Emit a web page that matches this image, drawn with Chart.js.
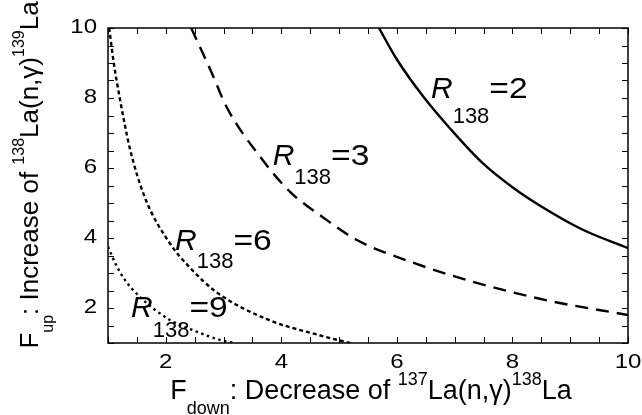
<!DOCTYPE html>
<html>
<head>
<meta charset="utf-8">
<script src="https://cdn.jsdelivr.net/npm/chart.js@4.4.0/dist/chart.umd.min.js"></script>
<style>
    html, body { margin: 0; padding: 0; background: #fff; }
    #chart { display: block; }
</style>
</head>
<body>
<canvas id="chart" width="642" height="415"></canvas>
<script>
// values
const r2X = [5.69, 6.0, 6.48, 6.92, 7.49, 8.0, 8.5, 9.2, 10];
const r2Y = [10, 9.1, 7.99, 7.13, 6.13, 5.45, 4.9, 4.25, 3.71];

const r3X = [2.44, 2.8, 3.05, 3.69, 4.15, 4.73, 5.3, 6.34, 7.49, 8.65, 10];
const r3Y = [10, 8.7, 7.75, 6.2, 5.32, 4.58, 3.95, 3.26, 2.67, 2.2, 1.8];

const r6X = [1.02, 1.1, 1.21, 1.38, 1.64, 2.07, 2.42, 2.88, 3.75, 4.64, 5.19];
const r6Y = [10, 9.0, 7.94, 6.55, 5.15, 3.85, 3.15, 2.45, 1.68, 1.23, 1.0];

const r9X = [1, 1.12, 1.26, 1.55, 2.07, 2.51, 3.0, 3.21];
const r9Y = [3.75, 3.3, 2.88, 2.32, 1.66, 1.34, 1.06, 1.0];

const xTicks = [1, 1.5, 2, 2.5, 3, 3.5, 4, 4.5, 5, 5.5, 6, 6.5, 7, 7.5, 8, 8.5, 9, 9.5, 10];
const yTicks = [1, 1.5, 2, 2.5, 3, 3.5, 4, 4.5, 5, 5.5, 6, 6.5, 7, 7.5, 8, 8.5, 9, 9.5, 10];
const xTickLabels = ["2", "4", "6", "8", "10"];
const yTickLabels = ["2", "4", "6", "8", "10"];

const curveNames = ["2", "3", "6", "9"];
// where each R138 label sits, in data units, and how far its subscript drops
const labelX = [6.59, 3.85, 2.16, 1.40];
const labelY = [7.99, 6.09, 3.66, 1.74];
const labelSubDrop = [25, 19, 18, 20];

const FONT = "'Liberation Sans', Arial, Helvetica, sans-serif";

function toPoints(xs, ys) {
    return xs.map((x, i) => ({ x: x, y: ys[i] }));
}

function curve(xs, ys, dash) {
    return {
        data: toPoints(xs, ys),
        showLine: true,
        borderColor: "#000",
        borderWidth: 2.4,
        borderDash: dash,
        pointRadius: 0,
        cubicInterpolationMode: "monotone",
        fill: false
    };
}

// text with sub / superscripts, parts = [text, size, dy]
function measureParts(ctx, parts) {
    let w = 0;
    parts.forEach(p => {
        ctx.font = p[1] + "px " + FONT;
        w += ctx.measureText(p[0]).width;
    });
    return w;
}

function drawParts(ctx, parts, x, y) {
    parts.forEach(p => {
        ctx.font = p[1] + "px " + FONT;
        ctx.fillText(p[0], x, y + p[2]);
        x += ctx.measureText(p[0]).width;
    });
}

function drawStretched(ctx, text, x, y, sx) {
    ctx.save();
    ctx.translate(x, y);
    ctx.scale(sx, 1);
    ctx.fillText(text, 0, 0);
    ctx.restore();
}

const framePlugin = {
    id: "frame",
    afterDraw(chart) {
        const ctx = chart.ctx;
        const area = chart.chartArea;
        const xs = chart.scales.x;
        const ys = chart.scales.y;
        const tickLen = 6;

        ctx.save();
        ctx.strokeStyle = "#000";
        ctx.fillStyle = "#000";
        ctx.lineWidth = 1.5;
        ctx.strokeRect(area.left, area.top, area.right - area.left, area.bottom - area.top);

        ctx.lineWidth = 1;
        ctx.beginPath();
        xTicks.forEach(v => {
            const px = Math.round(xs.getPixelForValue(v)) + 0.5;
            ctx.moveTo(px, area.bottom);
            ctx.lineTo(px, area.bottom - tickLen);
            ctx.moveTo(px, area.top);
            ctx.lineTo(px, area.top + tickLen);
        });
        yTicks.forEach(v => {
            const py = Math.round(ys.getPixelForValue(v)) + 0.5;
            ctx.moveTo(area.left, py);
            ctx.lineTo(area.left + tickLen, py);
            ctx.moveTo(area.right, py);
            ctx.lineTo(area.right - tickLen, py);
        });
        ctx.stroke();

        // tick labels
        ctx.font = "20px " + FONT;
        ctx.textBaseline = "alphabetic";
        ctx.textAlign = "center";
        xTickLabels.forEach(t => {
            drawStretched(ctx, t, xs.getPixelForValue(Number(t)), 368, 1.2);
        });
        ctx.textAlign = "right";
        yTickLabels.forEach(t => {
            drawStretched(ctx, t, area.left - 11, ys.getPixelForValue(Number(t)) + 5, 1.2);
        });

        // axis titles
        ctx.textAlign = "left";
        const xTitle = [
            ["F", 27, 0], ["down", 18, 15], [": Decrease of ", 27, 0],
            ["137", 18, -14], ["La(n,\u03b3)", 27, 0], ["138", 18, -14], ["La", 27, 0]
        ];
        const xw = measureParts(ctx, xTitle);
        drawParts(ctx, xTitle, (area.left + area.right) / 2 + 3 - xw / 2, 399);

        const yTitle = [
            ["F", 26, 0], ["up", 16, 15], [": Increase of ", 26, 0],
            ["138", 16, -14], ["La(n,\u03b3)", 26, 0], ["139", 16, -14], ["La", 26, 0]
        ];
        const yw = measureParts(ctx, yTitle);
        ctx.save();
        ctx.translate(38, 175);
        ctx.rotate(-Math.PI / 2);
        drawParts(ctx, yTitle, -yw / 2, 0);
        ctx.restore();

        // curve labels
        curveNames.forEach((name, i) => {
            const px = xs.getPixelForValue(labelX[i]);
            const py = ys.getPixelForValue(labelY[i]);
            ctx.font = "italic 30px " + FONT;
            ctx.fillText("R", px, py);
            let cx = px + ctx.measureText("R").width;
            ctx.font = "22px " + FONT;
            ctx.fillText("138", cx, py + labelSubDrop[i]);
            cx += ctx.measureText("138").width;
            ctx.font = "30px " + FONT;
            drawStretched(ctx, "=" + name, cx, py, 1.12);
        });
        ctx.restore();
    }
};

new Chart(document.getElementById("chart"), {
    type: "scatter",
    data: {
        datasets: [
            curve(r2X, r2Y, []),
            curve(r3X, r3Y, [13, 8]),
            curve(r6X, r6Y, [4, 3]),
            curve(r9X, r9Y, [2.5, 3.5])
        ]
    },
    options: {
        responsive: false,
        animation: false,
        devicePixelRatio: 1,
        layout: { padding: { top: 28, right: 14, left: 0, bottom: 0 } },
        plugins: {
            legend: { display: false },
            tooltip: { enabled: false }
        },
        scales: {
            x: {
                type: "linear",
                min: 1,
                max: 10,
                afterBuildTicks: s => { s.ticks = xTicks.map(v => ({ value: v })); },
                afterFit: s => { s.height = 72; },
                ticks: { display: false },
                grid: { display: false },
                border: { display: false }
            },
            y: {
                type: "linear",
                min: 1,
                max: 10,
                afterBuildTicks: s => { s.ticks = yTicks.map(v => ({ value: v })); },
                afterFit: s => { s.width = 108; },
                ticks: { display: false },
                grid: { display: false },
                border: { display: false }
            }
        }
    },
    plugins: [framePlugin]
});
</script>
</body>
</html>
